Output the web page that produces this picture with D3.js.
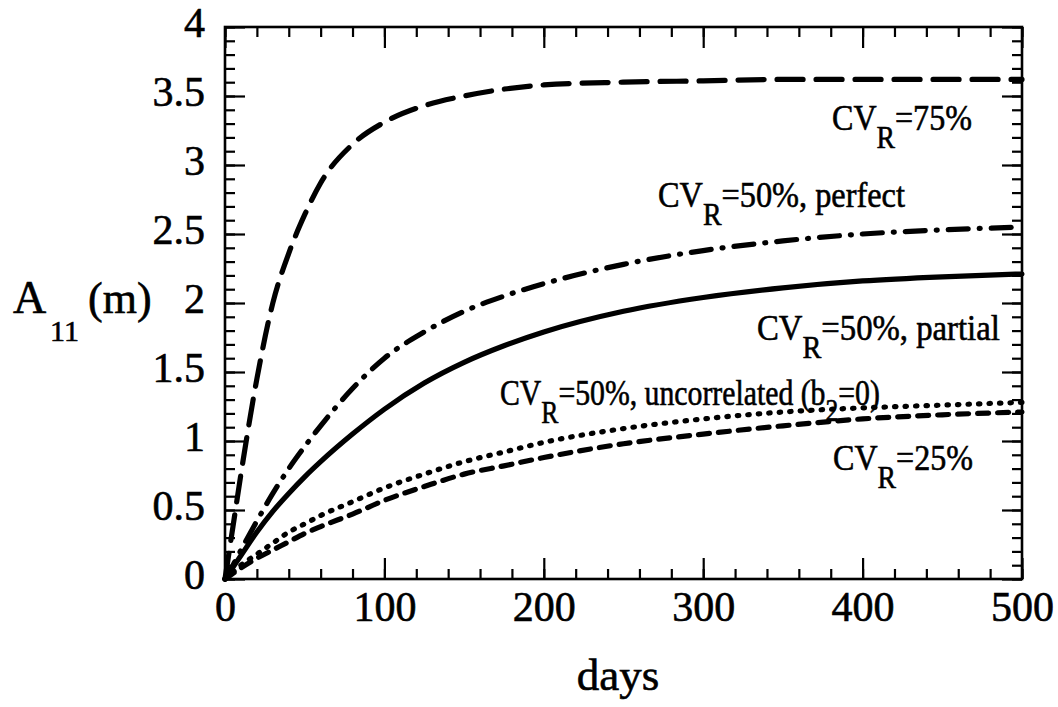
<!DOCTYPE html>
<html>
<head>
<meta charset="utf-8">
<script src="https://cdn.jsdelivr.net/npm/d3@7"></script>
<style>
  html, body { margin: 0; padding: 0; background: #fff; }
  svg text { fill: #000; stroke: #000; stroke-width: 0.6px; }
</style>
</head>
<body>
<div id="container"></div>
<script>
// sample days shared by every curve
const days = [0, 5, 10, 20, 30, 40, 50, 60, 80, 100, 125, 150, 175, 200, 250, 300, 350, 400, 450, 500];

// A11 (m) for each case
const cv75        = [0, 0.38, 0.76, 1.45, 2.00, 2.36, 2.64, 2.87, 3.15, 3.31, 3.43, 3.50, 3.55, 3.58, 3.60, 3.61, 3.62, 3.62, 3.62, 3.62];
const cv50Perfect = [0, 0.10, 0.21, 0.42, 0.62, 0.80, 0.96, 1.11, 1.38, 1.60, 1.79, 1.94, 2.05, 2.14, 2.28, 2.38, 2.45, 2.50, 2.53, 2.55];
const cv50Partial = [0, 0.085, 0.17, 0.34, 0.49, 0.62, 0.74, 0.85, 1.05, 1.23, 1.42, 1.57, 1.69, 1.79, 1.94, 2.04, 2.11, 2.16, 2.19, 2.21];
const cv50Uncorr  = [0, 0.05, 0.10, 0.18, 0.26, 0.34, 0.40, 0.46, 0.56, 0.66, 0.76, 0.85, 0.92, 0.99, 1.09, 1.16, 1.21, 1.24, 1.26, 1.28];
const cv25        = [0, 0.04, 0.08, 0.15, 0.21, 0.27, 0.33, 0.38, 0.47, 0.57, 0.67, 0.76, 0.82, 0.88, 0.98, 1.05, 1.11, 1.16, 1.19, 1.21];

const xMajor = [0, 100, 200, 300, 400, 500];
const yMajor = [0, 0.5, 1, 1.5, 2, 2.5, 3, 3.5, 4];

const width = 1058, height = 707;
const margin = {left: 225, right: 36, top: 27, bottom: 128};
const serif = 'Liberation Serif, DejaVu Serif, serif';

const svg = d3.select('#container').append('svg')
  .attr('width', width)
  .attr('height', height)
  .style('font-family', serif);

const x = d3.scaleLinear().domain([0, 500]).range([margin.left, width - margin.right]);
const y = d3.scaleLinear().domain([0, 4]).range([height - margin.bottom, margin.top]);

const x0 = x.range()[0], x1 = x.range()[1];
const y0 = y.range()[0], y1 = y.range()[1];

// ticks point inward on all four sides
const xMinor = d3.range(0, 501, 20);
const yMinor = d3.range(0, 41).map(d => d / 10);

function tickAxis(axisFn, scale, values, size, offset, labelled) {
  const g = svg.append('g')
    .attr('transform', offset)
    .call(axisFn(scale).tickValues(values).tickSize(size).tickSizeOuter(0)
      .tickFormat(labelled ? d3.format('~g') : ''))
    .attr('font-family', null);
  g.select('.domain').remove();
  g.selectAll('.tick line').attr('stroke', '#000').attr('stroke-width', 2.2);
  return g;
}

tickAxis(d3.axisBottom, x, xMinor, -10, `translate(0,${y0})`, false);
const xAxis = tickAxis(d3.axisBottom, x, xMajor, -21, `translate(0,${y0})`, true);
tickAxis(d3.axisTop, x, xMinor, -10, `translate(0,${y1})`, false);
tickAxis(d3.axisTop, x, xMajor, -21, `translate(0,${y1})`, false);

tickAxis(d3.axisLeft, y, yMinor, -10, `translate(${x0},0)`, false);
const yAxis = tickAxis(d3.axisLeft, y, yMajor, -20, `translate(${x0},0)`, true);
tickAxis(d3.axisRight, y, yMinor, -10, `translate(${x1},0)`, false);
tickAxis(d3.axisRight, y, yMajor, -20, `translate(${x1},0)`, false);

xAxis.selectAll('.tick text')
  .attr('y', 12)
  .attr('font-size', 42);
yAxis.selectAll('.tick text')
  .attr('x', -20)
  .attr('dy', '0.22em')
  .attr('font-size', 42);

// plot frame
svg.append('rect')
  .attr('x', x0).attr('y', y1)
  .attr('width', x1 - x0).attr('height', y0 - y1)
  .attr('fill', 'none').attr('stroke', '#000').attr('stroke-width', 2.6);

const line = d3.line()
  .x(d => x(d[0]))
  .y(d => y(d[1]))
  .curve(d3.curveMonotoneX);

const series = [
  {values: cv75,        dash: '26,13'},
  {values: cv50Perfect, dash: '20,11,1,11'},
  {values: cv50Partial, dash: null},
  {values: cv50Uncorr,  dash: '1.5,9'},
  {values: cv25,        dash: '11,9'}
];

svg.append('g').selectAll('path')
  .data(series)
  .join('path')
  .attr('d', s => line(days.map((d, i) => [d, s.values[i]])))
  .attr('fill', 'none')
  .attr('stroke', '#000')
  .attr('stroke-width', 5.2)
  .attr('stroke-linecap', 'round')
  .attr('stroke-dasharray', s => s.dash);

// "CV" with subscript R, then the rest; squeezed to the set width
function note(px, py, parts, w) {
  const t = svg.append('text')
    .attr('x', px).attr('y', py)
    .attr('font-size', 36);
  parts.forEach(p => {
    t.append('tspan')
      .attr('dy', p.dy || 0)
      .attr('font-size', p.sub ? 31 : 36)
      .text(p.s);
  });
  const bw = t.node().getBBox().width;
  t.attr('transform', `translate(${px},0) scale(${w / bw},1) translate(${-px},0)`);
}

note(832, 130, [{s: 'CV'}, {s: 'R', sub: true, dy: 18}, {s: '=75%', dy: -18}], 140);
note(658, 207, [{s: 'CV'}, {s: 'R', sub: true, dy: 18}, {s: '=50%, perfect', dy: -18}], 247);
note(757, 340, [{s: 'CV'}, {s: 'R', sub: true, dy: 18}, {s: '=50%, partial', dy: -18}], 243);
note(500, 405, [{s: 'CV'}, {s: 'R', sub: true, dy: 18}, {s: '=50%, uncorrelated (b', dy: -18},
                {s: '2', sub: true, dy: 16}, {s: '=0)', dy: -16}], 380);
note(833, 470, [{s: 'CV'}, {s: 'R', sub: true, dy: 18}, {s: '=25%', dy: -18}], 140);

// axis titles
svg.append('text')
  .attr('x', 618).attr('y', 690)
  .attr('text-anchor', 'middle')
  .attr('font-size', 45)
  .text('days');

svg.append('text').attr('x', 13).attr('y', 313).attr('font-size', 46).text('A');
svg.append('text').attr('x', 50).attr('y', 341).attr('font-size', 30).text('11');
svg.append('text').attr('x', 88).attr('y', 313).attr('font-size', 44).text('(m)');
</script>
</body>
</html>
